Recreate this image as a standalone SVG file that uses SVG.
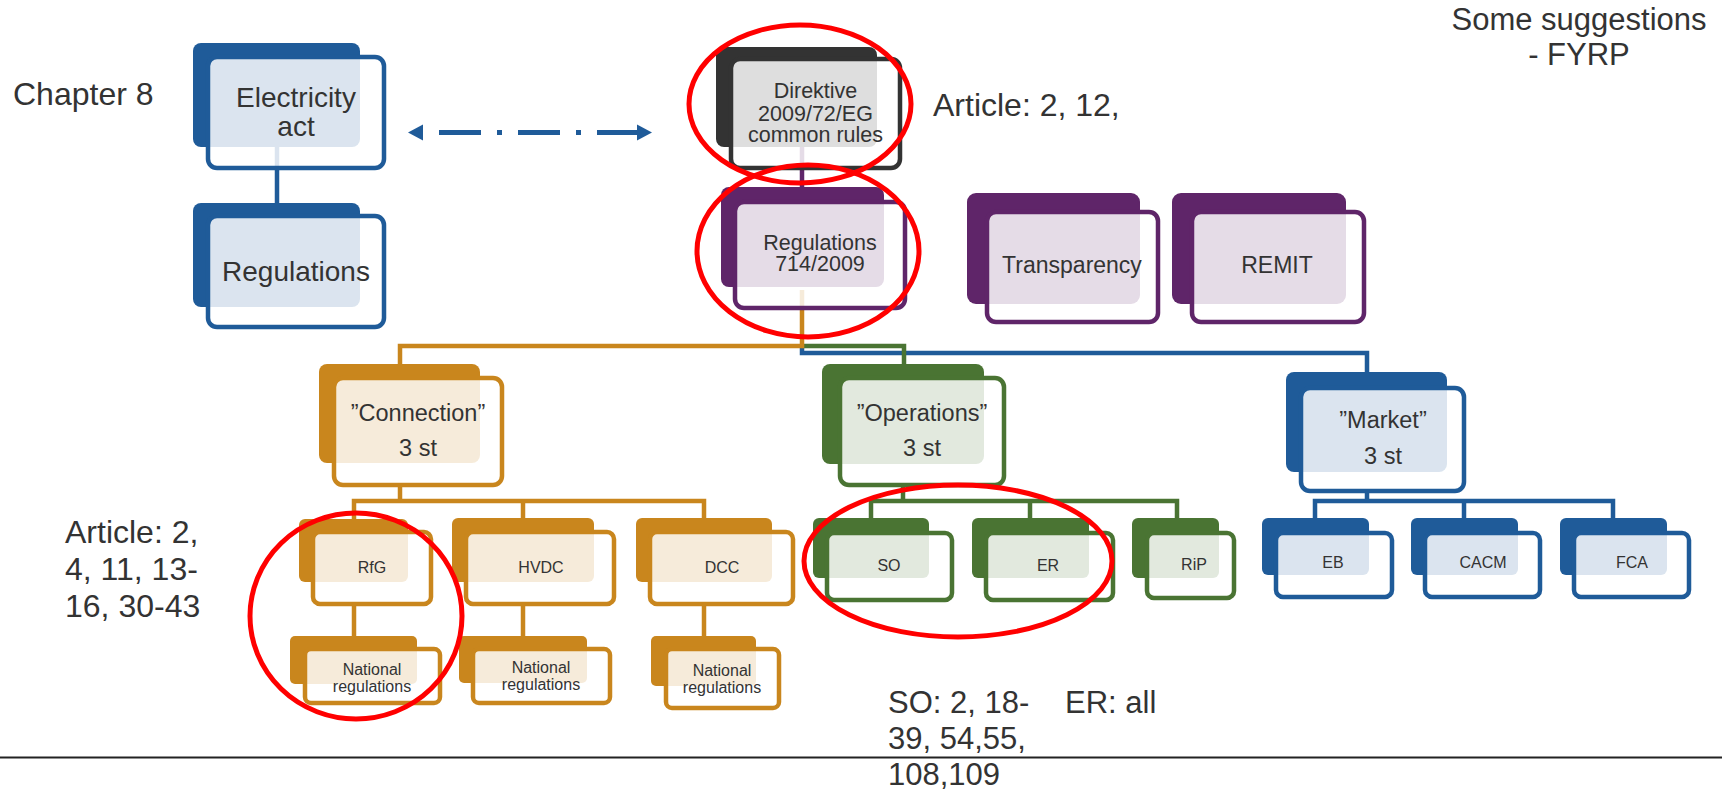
<svg xmlns="http://www.w3.org/2000/svg" width="1722" height="794" viewBox="0 0 1722 794">
<defs>
<style>
text{font-family:"Liberation Sans",Arial,sans-serif;fill:#333;}
.lbl{text-anchor:middle;}
.bk{stroke:none;}
.fr{fill:#fff;fill-opacity:0.84;stroke-width:4.5;}
.blue .bk{fill:#1f5b99}.blue .fr{stroke:#1f5b99}
.dark .bk{fill:#333}.dark .fr{stroke:#333}
.purple .bk{fill:#5f2569}.purple .fr{stroke:#5f2569}
.orange .bk{fill:#c9861d}.orange .fr{stroke:#c9861d}
.green .bk{fill:#4a7433}.green .fr{stroke:#4a7433}
.c{fill:none;stroke-width:4.5;stroke-linejoin:miter;}
.cb{stroke:#1f5b99}.cp{stroke:#5f2569}.co{stroke:#c9861d}.cg{stroke:#4a7433}
.ring{fill:none;stroke:#f00;stroke-width:5;}
.big{font-size:32px;}
.mid{font-size:31px;}
</style>
<marker id="ah" markerUnits="userSpaceOnUse" markerWidth="16" markerHeight="18" refX="0" refY="8" orient="auto-start-reverse" viewBox="0 0 16 16">
<path d="M0,0 L15,8 L0,16 Z" fill="#1f5b99"/>
</marker>
</defs>
<rect width="1722" height="794" fill="#fff"/>

<g id="connectors">
<path class="c cb" d="M277,147 V203"/>
<path class="c cp" d="M802,147 V187"/>
<path class="c cb" d="M802,346 V353 H1367 V372"/>
<path class="c cg" d="M802,346 H904 V366"/>
<path class="c co" d="M802,290 V346 H400 V364"/>
<path class="c co" d="M400,485 V501"/>
<path class="c co" d="M354,519 V501 H704 V518"/>
<path class="c co" d="M523,501 V518"/>
<path class="c co" d="M354,604 V636"/>
<path class="c co" d="M523,604 V636"/>
<path class="c co" d="M704,604 V636"/>
<path class="c cg" d="M903,485 V501"/>
<path class="c cg" d="M871,518 V501 H1177 V518"/>
<path class="c cg" d="M1030,501 V518"/>
<path class="c cb" d="M1367,491 V501"/>
<path class="c cb" d="M1315,518 V501 H1613 V518"/>
<path class="c cb" d="M1464,501 V518"/>
<line x1="423" y1="132.5" x2="637" y2="132.5" stroke="#1f5b99" stroke-width="5" stroke-dasharray="42 16 5 16" stroke-dashoffset="63" marker-start="url(#ah)" marker-end="url(#ah)"/>
</g>

<g id="electricity-act" class="blue">
<rect class="bk" x="193" y="43" width="167" height="104" rx="8"/>
<rect class="fr" x="208" y="57" width="176" height="111" rx="9"/>
<text class="lbl" x="296" y="107" font-size="28">Electricity</text>
<text class="lbl" x="296" y="136" font-size="28">act</text>
</g>

<g id="regulations-national" class="blue">
<rect class="bk" x="193" y="203" width="167" height="104" rx="8"/>
<rect class="fr" x="208" y="216" width="176" height="111" rx="9"/>
<text class="lbl" x="296" y="281" font-size="28">Regulations</text>
</g>

<g id="direktive" class="dark">
<rect class="bk" x="716" y="47" width="161" height="100" rx="8"/>
<rect class="fr" x="731" y="59" width="169" height="109" rx="9"/>
<text class="lbl" x="815.5" y="98" font-size="21.5">Direktive</text>
<text class="lbl" x="815.5" y="121" font-size="21.5">2009/72/EG</text>
<text class="lbl" x="815.5" y="142" font-size="21.5">common rules</text>
</g>

<g id="regulations-714" class="purple">
<rect class="bk" x="721" y="187" width="163" height="100" rx="8"/>
<rect class="fr" x="735" y="202" width="170" height="106" rx="9"/>
<text class="lbl" x="820" y="250" font-size="21.5">Regulations</text>
<text class="lbl" x="820" y="271" font-size="21.5">714/2009</text>
</g>

<g id="transparency" class="purple">
<rect class="bk" x="967" y="193" width="173" height="111" rx="9"/>
<rect class="fr" x="987" y="212" width="171" height="110" rx="9"/>
<text class="lbl" x="1072" y="273" font-size="23">Transparency</text>
</g>

<g id="remit" class="purple">
<rect class="bk" x="1172" y="193" width="174" height="111" rx="9"/>
<rect class="fr" x="1192" y="212" width="172" height="110" rx="9"/>
<text class="lbl" x="1277" y="273" font-size="23">REMIT</text>
</g>

<g id="connection" class="orange">
<rect class="bk" x="319" y="364" width="161" height="99" rx="8"/>
<rect class="fr" x="334" y="378" width="168" height="107" rx="9"/>
<text class="lbl" x="418" y="421" font-size="23.5">”Connection”</text>
<text class="lbl" x="418" y="456" font-size="23.5">3 st</text>
</g>

<g id="operations" class="green">
<rect class="bk" x="822" y="364" width="162" height="100" rx="8"/>
<rect class="fr" x="840" y="378" width="164" height="107" rx="9"/>
<text class="lbl" x="922" y="421" font-size="23.5">”Operations”</text>
<text class="lbl" x="922" y="456" font-size="23.5">3 st</text>
</g>

<g id="market" class="blue">
<rect class="bk" x="1286" y="372" width="161" height="100" rx="8"/>
<rect class="fr" x="1301" y="388" width="163" height="103" rx="9"/>
<text class="lbl" x="1383" y="428" font-size="23.5">”Market”</text>
<text class="lbl" x="1383" y="464" font-size="23.5">3 st</text>
</g>

<g id="rfg" class="orange">
<rect class="bk" x="299" y="519" width="109" height="63" rx="6"/>
<rect class="fr" x="313" y="532" width="118" height="72" rx="7"/>
<text class="lbl" x="372" y="573" font-size="16">RfG</text>
</g>

<g id="hvdc" class="orange">
<rect class="bk" x="452" y="518" width="142" height="64" rx="6"/>
<rect class="fr" x="466" y="532" width="148" height="72" rx="7"/>
<text class="lbl" x="541" y="573" font-size="16">HVDC</text>
</g>

<g id="dcc" class="orange">
<rect class="bk" x="636" y="518" width="136" height="64" rx="6"/>
<rect class="fr" x="650" y="532" width="143" height="72" rx="7"/>
<text class="lbl" x="722" y="573" font-size="16">DCC</text>
</g>

<g id="national-rfg" class="orange">
<rect class="bk" x="290" y="636" width="127" height="48" rx="5"/>
<rect class="fr" x="305" y="649" width="135" height="54" rx="6"/>
<text class="lbl" x="372" y="675" font-size="16">National</text>
<text class="lbl" x="372" y="692" font-size="16">regulations</text>
</g>

<g id="national-hvdc" class="orange">
<rect class="bk" x="459" y="636" width="128" height="47" rx="5"/>
<rect class="fr" x="473" y="649" width="137" height="54" rx="6"/>
<text class="lbl" x="541" y="673" font-size="16">National</text>
<text class="lbl" x="541" y="690" font-size="16">regulations</text>
</g>

<g id="national-dcc" class="orange">
<rect class="bk" x="651" y="636" width="105" height="50" rx="5"/>
<rect class="fr" x="666" y="649" width="113" height="59" rx="6"/>
<text class="lbl" x="722" y="676" font-size="16">National</text>
<text class="lbl" x="722" y="693" font-size="16">regulations</text>
</g>

<g id="so" class="green">
<rect class="bk" x="813" y="518" width="116" height="60" rx="6"/>
<rect class="fr" x="827" y="533" width="125" height="67" rx="7"/>
<text class="lbl" x="889" y="571" font-size="16">SO</text>
</g>

<g id="er" class="green">
<rect class="bk" x="972" y="518" width="117" height="60" rx="6"/>
<rect class="fr" x="986" y="533" width="127" height="67" rx="7"/>
<text class="lbl" x="1048" y="571" font-size="16">ER</text>
</g>

<g id="rip" class="green">
<rect class="bk" x="1132" y="518" width="87" height="60" rx="6"/>
<rect class="fr" x="1147" y="533" width="87" height="65" rx="7"/>
<text class="lbl" x="1194" y="570" font-size="16">RiP</text>
</g>

<g id="eb" class="blue">
<rect class="bk" x="1262" y="518" width="107" height="57" rx="6"/>
<rect class="fr" x="1276" y="533" width="116" height="64" rx="7"/>
<text class="lbl" x="1333" y="568" font-size="16">EB</text>
</g>

<g id="cacm" class="blue">
<rect class="bk" x="1411" y="518" width="107" height="57" rx="6"/>
<rect class="fr" x="1425" y="533" width="115" height="64" rx="7"/>
<text class="lbl" x="1483" y="568" font-size="16">CACM</text>
</g>

<g id="fca" class="blue">
<rect class="bk" x="1560" y="518" width="107" height="57" rx="6"/>
<rect class="fr" x="1574" y="533" width="115" height="64" rx="7"/>
<text class="lbl" x="1632" y="568" font-size="16">FCA</text>
</g>

<g id="notes">
<text class="big" x="13" y="105">Chapter 8</text>
<text class="big" x="933" y="116">Article: 2, 12,</text>
<text class="big" x="65" y="543">Article: 2,</text>
<text class="big" x="65" y="580">4, 11, 13-</text>
<text class="big" x="65" y="617">16, 30-43</text>
<text class="mid" x="888" y="713">SO: 2, 18-</text>
<text class="mid" x="888" y="749">39, 54,55,</text>
<text class="mid" x="888" y="785">108,109</text>
<text class="mid" x="1065" y="713">ER: all</text>
<text class="mid lbl" x="1579" y="30">Some suggestions</text>
<text class="mid lbl" x="1579" y="65">- FYRP</text>
<line x1="0" y1="757.5" x2="1722" y2="757.5" stroke="#222" stroke-width="2"/>
</g>

<g id="highlights">
<ellipse class="ring" cx="800" cy="104" rx="111" ry="79"/>
<ellipse class="ring" cx="808" cy="251" rx="111" ry="86"/>
<ellipse class="ring" cx="356" cy="616" rx="106" ry="103"/>
<ellipse class="ring" cx="958" cy="561" rx="154" ry="76"/>
</g>
</svg>
